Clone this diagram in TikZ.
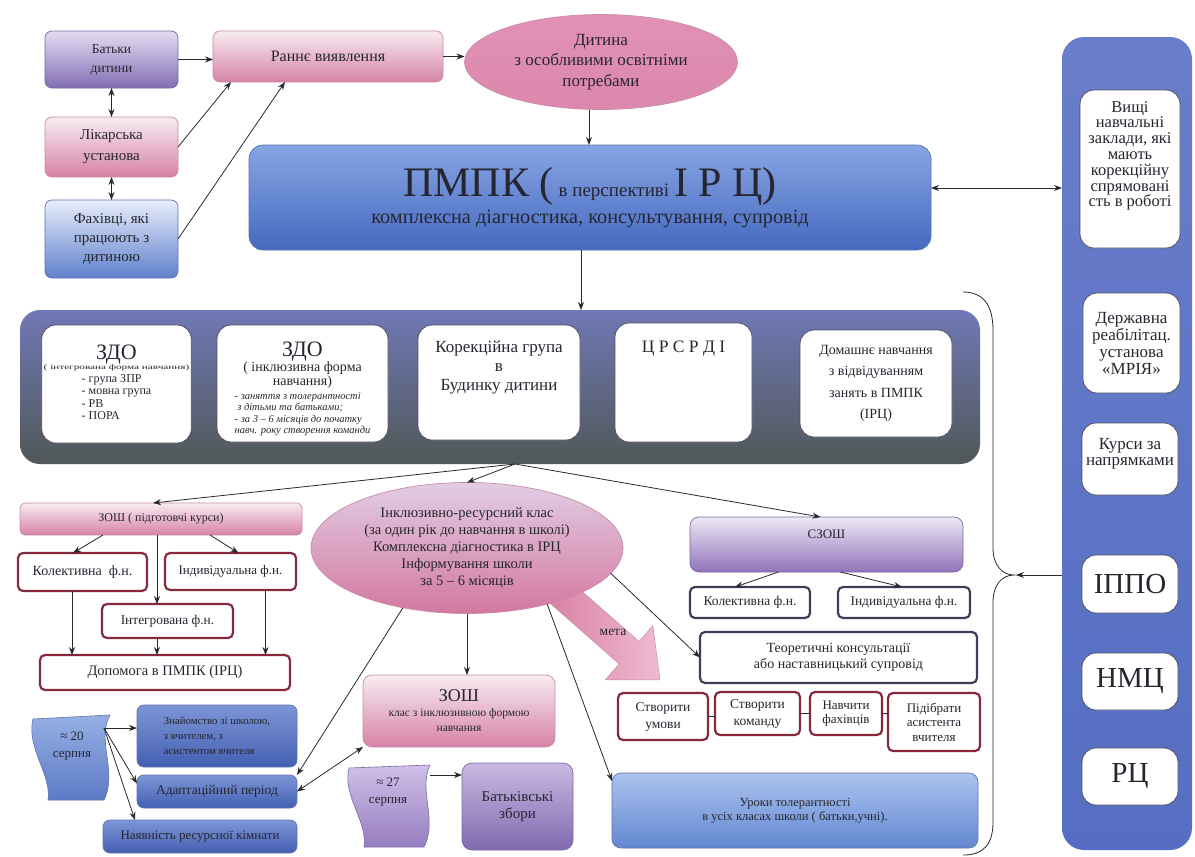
\documentclass[tikz,border=0pt]{standalone}
\usepackage{fontspec}
\usepackage{graphicx}
\setmainfont{Liberation Serif}
\usetikzlibrary{arrows.meta,shapes.geometric}
\definecolor{txt}{RGB}{38,38,48}
\definecolor{arrc}{RGB}{40,40,48}
\definecolor{pinkT}{RGB}{248,236,242}
\definecolor{pinkB}{RGB}{214,130,165}
\definecolor{pinkE}{RGB}{200,140,170}
\definecolor{purT}{RGB}{228,220,242}
\definecolor{purB}{RGB}{130,110,180}
\definecolor{purE}{RGB}{120,105,165}
\definecolor{bluT}{RGB}{232,238,250}
\definecolor{bluB}{RGB}{95,128,205}
\definecolor{bluE}{RGB}{95,115,175}
\definecolor{dblT}{RGB}{125,150,215}
\definecolor{dblB}{RGB}{68,95,178}
\definecolor{urT}{RGB}{170,195,238}
\definecolor{urB}{RGB}{100,135,210}
\definecolor{pmT}{RGB}{135,165,228}
\definecolor{pmB}{RGB}{70,105,192}
\definecolor{colT}{RGB}{105,125,202}
\definecolor{colM}{RGB}{150,172,230}
\definecolor{colB}{RGB}{85,110,195}
\definecolor{midT}{RGB}{112,120,182}
\definecolor{midM}{RGB}{118,124,155}
\definecolor{midB}{RGB}{80,88,88}
\definecolor{szT}{RGB}{238,232,246}
\definecolor{szB}{RGB}{145,115,185}
\definecolor{bkT}{RGB}{200,185,225}
\definecolor{bkB}{RGB}{130,105,175}
\definecolor{elT}{RGB}{226,145,182}
\definecolor{elM}{RGB}{246,222,234}
\definecolor{elB}{RGB}{220,135,172}
\definecolor{inT}{RGB}{225,205,228}
\definecolor{inM}{RGB}{246,230,238}
\definecolor{inB}{RGB}{212,120,160}
\definecolor{redb}{RGB}{135,40,62}
\definecolor{prb}{RGB}{68,58,88}
\definecolor{whE}{RGB}{80,80,100}
\definecolor{metaA}{RGB}{218,130,165}
\definecolor{metaB}{RGB}{238,188,208}
\newcommand\fsz[2]{\fontsize{#1}{#2}\selectfont}
\newcommand\boxat[7]{\node[#1,minimum width={(#5-(#3))*1pt},minimum height={(#6-(#4))*1pt}] (#2) at ({(#3+#5)/2},{(#4+#6)/2}) {#7};}
\begin{document}
\begin{tikzpicture}[x=1pt,y=-1pt,
  base/.style={align=center,text=txt,inner sep=2pt,outer sep=0pt},
  pinkbox/.style={base,rounded corners=7pt,draw=pinkE,line width=0.7pt,top color=pinkT,bottom color=pinkB},
  purbox/.style={base,rounded corners=7pt,draw=purE,line width=0.7pt,top color=purT,bottom color=purB},
  bluebox/.style={base,rounded corners=7pt,draw=bluE,line width=0.7pt,top color=bluT,bottom color=bluB},
  dbluebox/.style={base,rounded corners=7pt,draw=bluE,line width=0.7pt,top color=dblT,bottom color=dblB},
  urbox/.style={base,rounded corners=9pt,draw=bluE,line width=0.7pt,top color=urT,bottom color=urB},
  pmbox/.style={base,rounded corners=14pt,draw=bluE,line width=0.7pt,top color=pmT,bottom color=pmB},
  colbox/.style={base,rounded corners=22pt,draw=none,top color=colT,middle color=colM,bottom color=colB},
  midbox/.style={base,rounded corners=20pt,draw=none,top color=midT,middle color=midM,bottom color=midB},
  szbox/.style={base,rounded corners=9pt,draw=purE,line width=0.7pt,top color=szT,bottom color=szB},
  bkbox/.style={base,rounded corners=10pt,draw=purE,line width=0.7pt,top color=bkT,bottom color=bkB},
  whbox/.style={base,rounded corners=14pt,fill=white,draw=whE,line width=0.8pt},
  redbox/.style={base,rounded corners=5pt,fill=white,draw=redb,line width=2.2pt},
  prbox/.style={base,rounded corners=5pt,fill=white,draw=prb,line width=2.2pt},
  arr/.style={draw=arrc,line width=0.8pt,-{Stealth[length=8pt,width=6pt]}},
  darr/.style={draw=arrc,line width=0.8pt,{Stealth[length=8pt,width=6pt]}-{Stealth[length=8pt,width=6pt]}},
  ln/.style={draw=arrc,line width=0.8pt}]
\useasboundingbox (0,0) rectangle (1195,857);
\fill[white] (0,0) rectangle (1195,857);

% ---------- right column
\boxat{colbox}{col}{1062}{37}{1192}{850}{}
\boxat{whbox,font=\fsz{16.5}{15.8},text depth=30pt}{vyshchi}{1080}{90}{1180}{248}{Вищі\\навчальні\\заклади, які\\мають\\корекційну\\спрямовані\\сть в роботі}
\boxat{whbox,font=\fsz{17}{17}}{derzh}{1083}{293}{1180}{393}{Державна\\реабілітац.\\установа\\«МРІЯ»}
\boxat{whbox,font=\fsz{17}{16.5},text depth=14pt}{kursy}{1082}{423}{1178}{495}{Курси за\\напрямками}
\boxat{whbox,font=\fsz{29}{30}}{ippo}{1082}{555}{1178}{613}{ІППО}
\boxat{whbox,font=\fsz{29}{30}}{nmc}{1082}{653}{1178}{710}{НМЦ}
\boxat{whbox,font=\fsz{29}{30}}{rc}{1082}{748}{1178}{805}{РЦ}

% brace
\draw[ln] (963,292) .. controls (983,292) and (993,305) .. (993,330) -- (993,548) .. controls (993,565) and (1002,575) .. (1014,575) .. controls (1002,575) and (993,585) .. (993,602) -- (993,822) .. controls (993,845) and (983,855) .. (963,855);
\coordinate (btip) at (1016,575);
\draw[arr] (col.west |- btip) -- (btip);

% ---------- top-left
\boxat{purbox,font=\fsz{13.5}{19}}{batky}{45}{31}{178}{88}{Батьки\\дитини}
\boxat{pinkbox,font=\fsz{15}{21}}{likar}{45}{117}{178}{177}{Лікарська\\установа}
\boxat{bluebox,font=\fsz{15}{19}}{fakh}{45}{200}{178}{278}{Фахівці, які\\працюють з\\дитиною}
\boxat{pinkbox,font=\fsz{16}{16}}{rannye}{213}{31}{443}{82}{Раннє виявлення}
\node[ellipse,base,inner sep=0pt,draw=pinkE,line width=0.7pt,top color=elT,middle color=elM,bottom color=elB,minimum width=273pt,minimum height=95pt,font=\fsz{17}{20.5}] (dyt) at (601,62) {Дитина\\з особливими освітніми\\потребами};

\boxat{pmbox,font=\fsz{20.3}{27}}{pmpk}{249}{145}{931}{250}{{\fsz{42}{27}ПМПК (} {\fsz{19}{27}в перспективі} {\fsz{42}{27}І Р Ц)}\\комплексна діагностика, консультування, супровід}

\draw[darr] (batky.south) -- (likar.north);
\draw[darr] (likar.south) -- (fakh.north);
\draw[arr] (batky.east) -- (batky.east -| rannye.west);
\draw[arr] (likar.east) -- ([xshift=18pt]rannye.south west);
\draw[arr] (fakh.east) -- ([xshift=72pt]rannye.south west);
\draw[arr] (rannye.east) -- (rannye.east -| dyt.west);
\draw[arr] ([xshift=-12pt]dyt.south) -- ([xshift=-12pt]dyt.south |- pmpk.north);
\draw[darr] ([yshift=9.5pt]pmpk.east) -- ([yshift=9.5pt]pmpk.east -| col.west);

% ---------- middle band
\boxat{midbox}{mid}{20}{310}{980}{464}{}
\boxat{whbox,font=\fsz{12}{12.5}}{zdoa}{43}{325}{190}{443}{{\fsz{22}{25}ЗДО}\\[-2pt]{\scalebox{1.6}[1]{\fsz{7}{8}( інтегрована форма навчання)}}\\\begin{tabular}[t]{@{}l@{}}- група ЗПР\\- мовна група\\- РВ\\- ПОРА\end{tabular}}
\boxat{whbox,font=\fsz{14}{14},text depth=26pt}{zdob}{217}{325}{388}{442}{{\fsz{22}{25}ЗДО}\\( інклюзивна форма\\навчання)\\{\itshape\fsz{10.5}{11.5}\begin{tabular}[t]{@{}l@{}}- заняття з толерантності\\\ з дітьми та батьками;\\- за 3 – 6 місяців до початку\\навч. року створення команди\end{tabular}}}
\boxat{whbox,font=\fsz{17}{19},text depth=34pt}{korek}{418}{325}{580}{440}{Корекційна група\\в\\Будинку дитини}
\boxat{whbox,font=\fsz{17.5}{19},text depth=72pt}{tsr}{615}{323}{752}{442}{Ц Р С Р Д І}
\boxat{whbox,font=\fsz{14}{21.5}}{dom}{800}{330}{952}{437}{Домашнє навчання\\з відвідуванням\\занять в ПМПК\\(ІРЦ)}
\draw[arr] ([xshift=-9pt]pmpk.south) -- ([xshift=-9pt]pmpk.south |- mid.north);
\coordinate (mb) at ([xshift=15pt]mid.south);

% ---------- left lower block
\boxat{pinkbox,rounded corners=5pt,font=\fsz{12}{14}}{zosh}{20}{503}{302}{535}{ЗОШ ( підготовчі курси)}
\boxat{redbox,font=\fsz{14}{15}}{kola}{18}{553}{147}{591}{Колективна\ \ ф.н.}
\boxat{redbox,font=\fsz{13}{15}}{inda}{165}{553}{296}{590}{Індивідуальна ф.н.}
\boxat{redbox,font=\fsz{13.4}{15}}{integr}{102}{604}{233}{638}{Інтегрована ф.н.}
\boxat{redbox,font=\fsz{14.5}{16}}{dop}{40}{655}{290}{690}{Допомога в ПМПК (ІРЦ)}
\draw[arr] (mb) -- ([xshift=-8pt]zosh.north);
\draw[arr] ([xshift=-58pt]zosh.south) -- ([xshift=-9.5pt]kola.north);
\draw[arr] ([xshift=-4pt]zosh.south) -- ([xshift=-4pt]zosh.south |- integr.north);
\draw[arr] ([xshift=49pt]zosh.south) -- ([xshift=8pt]inda.north);
\draw[arr] ([xshift=-10.5pt]kola.south) -- ([xshift=-10.5pt]kola.south |- dop.north);
\draw[arr] ([xshift=-10.5pt]integr.south) -- ([xshift=-10.5pt]integr.south |- dop.north);
\draw[arr] ([xshift=35pt]inda.south) -- ([xshift=35pt]inda.south |- dop.north);

% ---------- meta arrow (drawn under the ellipse)
\begin{scope}[shift={(560,592)},rotate=-41.3]
\shade[left color=metaA,right color=metaB,draw=pinkE,line width=0.5pt] (0,-15) -- (92,-15) -- (92,-36) -- (133,0) -- (92,36) -- (92,15) -- (0,15) -- cycle;
\end{scope}
\node[font=\fsz{13.5}{15},text=txt,inner sep=0pt] (meta) at (613,632) {мета};

% ---------- inclusive ellipse
\node[ellipse,base,inner sep=0pt,draw=pinkE,line width=0.7pt,top color=inT,middle color=inM,bottom color=inB,minimum width=312pt,minimum height=131pt,font=\fsz{14.5}{17.2}] (incl) at (467,548) {Інклюзивно-ресурсний клас\\(за один рік до навчання в школі)\\Комплексна діагностика в ІРЦ\\Інформування школи\\за 5 – 6 місяців};
\draw[arr] (mb) -- (incl.north);

% ---------- SZOSH block
\boxat{szbox,font=\fsz{13}{15},text depth=20pt}{szosh}{690}{517}{963}{572}{СЗОШ}
\boxat{prbox,font=\fsz{13.5}{15}}{kolb}{690}{587}{810}{618}{Колективна ф.н.}
\boxat{prbox,font=\fsz{13.4}{15}}{indb}{838}{587}{970}{618}{Індивідуальна ф.н.}
\boxat{prbox,font=\fsz{14}{16}}{teor}{700}{632}{977}{683}{Теоретичні консультації\\або наставницький супровід}
\draw[arr] (mb) -- ([xshift=-6pt]szosh.north);
\draw[arr] ([xshift=-48pt]szosh.south) -- ([xshift=-15pt]kolb.north);
\draw[arr] ([xshift=14pt]szosh.south) -- ([xshift=-2pt]indb.north);
\draw[arr] (incl.-10) -- (teor.west);

\boxat{redbox,font=\fsz{13.5}{17}}{umovy}{618}{693}{708}{740}{Створити\\умови}
\boxat{redbox,font=\fsz{13.5}{17}}{koman}{715}{692}{800}{735}{Створити\\команду}
\boxat{redbox,font=\fsz{13}{14}}{navch}{810}{692}{882}{735}{Навчити\\фахівців}
\boxat{redbox,font=\fsz{13}{14.5}}{pidib}{888}{693}{980}{751}{Підібрати\\асистента\\вчителя}
\draw[ln] (umovy.east) -- (umovy.east -| koman.west);
\draw[ln] (koman.east) -- (koman.east -| navch.west);
\draw[ln] (navch.east) -- (navch.east -| pidib.west);

\boxat{urbox,font=\fsz{12.5}{14.5}}{uroky}{612}{773}{978}{848}{Уроки толерантності\\в усіх класах школи ( батьки,учні).}
\draw[arr] (incl.-35) -- ([yshift=-8pt]uroky.north west);

% ---------- ZOSH class, bottom left
\boxat{pinkbox,rounded corners=9pt,font=\fsz{11.5}{15}}{zkl}{363}{675}{555}{747}{{\fsz{18}{15}ЗОШ}\\клас з інклюзивною формою\\навчання}
\draw[arr] (incl.south) -- (incl.south |- zkl.north);

\boxat{dbluebox,align=left,font=\fsz{10.8}{15}}{znay}{137}{705}{297}{767}{Знайомство зі школою,\\з вчителем, з\\асистентом вчителя}
\boxat{dbluebox,font=\fsz{13.5}{15}}{adapt}{137}{775}{297}{808}{Адаптаційний період}
\boxat{dbluebox,font=\fsz{13}{15}}{nayav}{103}{820}{297}{853}{Наявність ресурсної кімнати}

\shade[top color={rgb,255:red,150;green,175;blue,228},bottom color={rgb,255:red,92;green,122;blue,198},draw=bluE,line width=0.6pt]
  (33,719) -- (110,715) .. controls (96,740) and (118,772) .. (104,800) -- (48,800) .. controls (52,775) and (26,748) .. (33,719) -- cycle;
\node[font=\fsz{13}{17},text=txt,align=center,inner sep=0pt] (w20) at (72,746) {≈ 20\\серпня};
\coordinate (w20r) at (104,728);
\draw[arr] (w20r) -- (w20r -| znay.west);
\draw[arr] (w20r) -- ([yshift=8pt]adapt.west);
\draw[arr] (w20r) -- ([xshift=32pt]nayav.north west);

\draw[arr] (incl.223) -- (adapt.north east);
\draw[darr] (adapt.east) -- (zkl.south west);

\shade[top color={rgb,255:red,208;green,192;blue,232},bottom color={rgb,255:red,150;green,125;blue,192},draw=purE,line width=0.6pt]
  (349,768) -- (430,765) .. controls (418,790) and (438,820) .. (424,847) -- (364,847) .. controls (368,822) and (342,795) .. (349,768) -- cycle;
\node[font=\fsz{13}{17},text=txt,align=center,inner sep=0pt] (w27) at (388,792) {≈ 27\\серпня};
\coordinate (w27r) at (430,775);
\boxat{bkbox,font=\fsz{15}{17}}{batkiv}{462}{763}{573}{850}{Батьківські\\збори}
\draw[arr] (w27r) -- (w27r -| batkiv.west);
\end{tikzpicture}
\end{document}
